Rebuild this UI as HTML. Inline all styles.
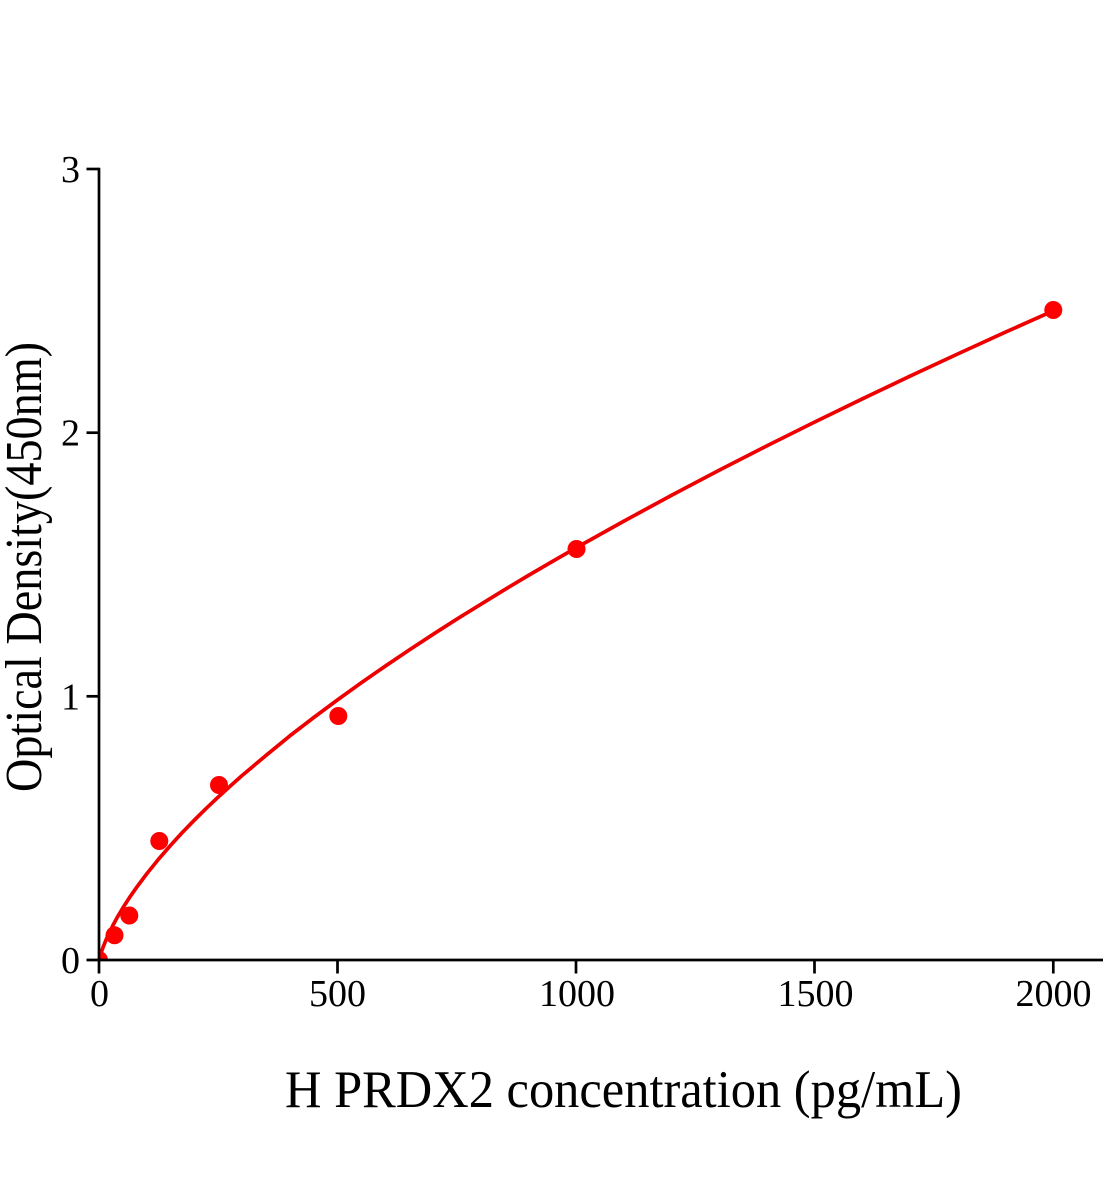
<!DOCTYPE html>
<html>
<head>
<meta charset="utf-8">
<style>
  html, body { margin: 0; padding: 0; background: #ffffff; }
  svg { display: block; }
  text { font-family: "Liberation Serif", "Times New Roman", serif; fill: #000; }
</style>
</head>
<body>
<svg width="1104" height="1200" viewBox="0 0 1104 1200" xmlns="http://www.w3.org/2000/svg">
  <defs>
    <clipPath id="plot">
      <rect x="99" y="100" width="1005" height="860"/>
    </clipPath>
  </defs>
  <rect x="0" y="0" width="1104" height="1200" fill="#ffffff"/>

  <!-- fitted curve -->
  <g clip-path="url(#plot)">
    <polyline fill="none" stroke="#ee0000" stroke-width="3.7" stroke-linejoin="round" stroke-linecap="round"
      points="99,960 99.48,958.2 100.19,955.8 101.39,952.0 103.77,945.4 106.16,939.6 108.54,934.2 113.31,924.6 118.08,915.9 122.85,907.9 130.0,896.8 137.16,886.6 146.7,873.9 158.6,859.1 170.55,845.4 182.5,832.3 194.4,820.1 206.3,808.3 218.25,797.0 230.2,786.1 242.1,775.5 266,755.4 289.8,735.9 313.6,717.6 337.5,699.85 361.3,682.8 385.2,666.2 409,650.1 432.9,634.4 456.7,619.2 480.6,604.4 504.4,589.8 528.3,575.5 552.1,561.6 576,547.9 623.7,521.2 671.4,495.4 719.1,470.3 766.8,445.9 814.5,422.1 862.2,398.9 909.9,376.2 957.6,354.0 1005.3,332.2 1053,310.9"/>
    <!-- data points -->
    <g fill="#ff0000">
      <circle cx="99" cy="960" r="9"/>
      <circle cx="114.5" cy="935.3" r="9"/>
      <circle cx="129.3" cy="915.5" r="9"/>
      <circle cx="159.3" cy="841" r="9"/>
      <circle cx="219" cy="785" r="9"/>
      <circle cx="338.3" cy="716" r="9"/>
      <circle cx="576.5" cy="549" r="9"/>
      <circle cx="1053.3" cy="310" r="9"/>
    </g>
  </g>

  <!-- axes -->
  <g stroke="#000" stroke-width="2.7" fill="none">
    <line x1="99" y1="167.7" x2="99" y2="961.3"/>
    <line x1="86.5" y1="960" x2="1103" y2="960"/>
    <!-- y ticks -->
    <line x1="86.5" y1="169" x2="99" y2="169"/>
    <line x1="86.5" y1="432.7" x2="99" y2="432.7"/>
    <line x1="86.5" y1="696.3" x2="99" y2="696.3"/>
    <!-- x ticks -->
    <line x1="99" y1="960" x2="99" y2="973.5"/>
    <line x1="337.5" y1="960" x2="337.5" y2="973.5"/>
    <line x1="576" y1="960" x2="576" y2="973.5"/>
    <line x1="814.5" y1="960" x2="814.5" y2="973.5"/>
    <line x1="1053.3" y1="960" x2="1053.3" y2="973.5"/>
  </g>

  <!-- y tick labels -->
  <g font-size="38" text-anchor="end">
    <text x="80" y="973">0</text>
    <text x="80" y="709.3">1</text>
    <text x="80" y="445.7">2</text>
    <text x="80" y="182">3</text>
  </g>

  <!-- x tick labels -->
  <g font-size="38" text-anchor="middle">
    <text x="99.5" y="1006">0</text>
    <text x="337.5" y="1006">500</text>
    <text x="577" y="1006">1000</text>
    <text x="815.5" y="1006">1500</text>
    <text x="1053.5" y="1006">2000</text>
  </g>

  <!-- axis titles -->
  <text x="285" y="1107" font-size="53" textLength="677" lengthAdjust="spacingAndGlyphs">H PRDX2 concentration (pg/mL)</text>
  <text transform="translate(41,792) rotate(-90)" x="0" y="0" font-size="52" textLength="450" lengthAdjust="spacingAndGlyphs">Optical Density(450nm)</text>
</svg>
</body>
</html>
